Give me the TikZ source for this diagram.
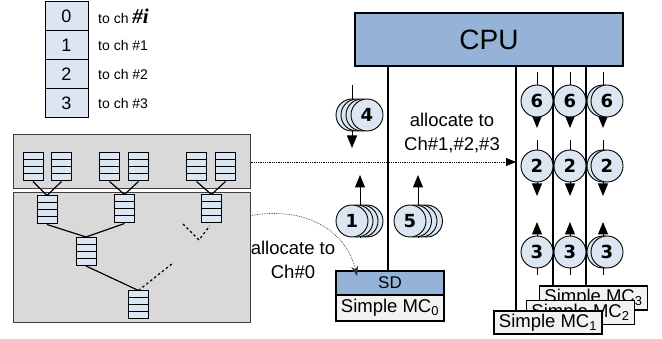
\documentclass[tikz,border=0pt]{standalone}
\usepackage{fontspec}
\setmainfont{Liberation Sans}
\newfontfamily\digitfont{DejaVu Sans}
\newfontfamily\timesfont{Liberation Serif}
\usetikzlibrary{arrows.meta,calc,positioning}
\definecolor{cpublue}{RGB}{149,179,215}
\definecolor{tokenblue}{RGB}{220,230,242}
\definecolor{panelgray}{RGB}{217,217,217}
\definecolor{mcgray}{RGB}{242,242,242}
\newcommand{\pxfont}[1]{\fontsize{#1}{#1}\selectfont}
\tikzset{
  panel/.style={draw=black!75,fill=panelgray,line width=1pt,inner sep=0pt},
  queue/.style={draw,fill=tokenblue,line width=1pt,minimum width=20pt,minimum height=28pt,inner sep=0pt,
    path picture={\foreach \k in {1,2,3}
      \draw[line width=1pt] ($(path picture bounding box.north west)!\k/4!(path picture bounding box.south west)$)
        -- ($(path picture bounding box.north east)!\k/4!(path picture bounding box.south east)$);}},
  branch/.style={line width=1.2pt},
  trail/.style={line width=1.2pt,dash pattern=on 2.5pt off 2.5pt},
  idxcell/.style={draw,fill=tokenblue,line width=1pt,minimum width=43pt,minimum height=29pt,inner sep=0pt,outer sep=0pt,font=\pxfont{18}},
  idxnote/.style={right=10pt of #1,inner sep=0pt,font=\pxfont{14}},
  unit/.style={draw,line width=1.2pt,inner sep=0pt,outer sep=0pt},
  mcbox/.style={unit,fill=mcgray,minimum width=108pt,minimum height=24pt,font=\pxfont{18.5}},
  bus/.style={line width=1.3pt},
  token/.style={circle,draw,fill=tokenblue,line width=0.9pt,minimum size=32pt,inner sep=0pt,font=\digitfont\bfseries\pxfont{18}},
  flow/.style={line width=1pt,-{Triangle[width=10pt,length=12.5pt]}},
  hop/.style={line width=0.8pt,densely dotted,-{Triangle[width=8pt,length=10pt]}},
  hopcurve/.style={line width=0.7pt,densely dotted,black!80,-{Stealth[width=7pt,length=10pt]}},
  note/.style={align=center,inner sep=0pt,font=\fontsize{18.5}{23.5}\selectfont}
}

\begin{document}
\begin{tikzpicture}[x=1pt,y=-1pt]
 \useasboundingbox (0,0) rectangle (662,339);
 % channel index table
 \node[idxcell] (c0) at (66.5,16.5) {0};
 \node[idxcell,below=0pt of c0] (c1) {1};
 \node[idxcell,below=0pt of c1] (c2) {2};
 \node[idxcell,below=0pt of c2] (c3) {3};
 \node[idxnote=c0] (n0) {to ch {\timesfont\bfseries\itshape\pxfont{21}\#i}};
 \node[idxnote=c1] (n1) {to ch \#1};
 \node[idxnote=c2] (n2) {to ch \#2};
 \node[idxnote=c3] (n3) {to ch \#3};

 % queue tree
 \node[panel,minimum width=237pt,minimum height=54pt] (top) at (131.5,162) {};
 \node[panel,minimum width=237pt,minimum height=130pt] (bottom) at (131.5,258) {};
 \node[queue] (q1) at (33,167) {};
 \node[queue] (q2) at (61.5,167) {};
 \node[queue] (q3) at (109.5,167) {};
 \node[queue] (q4) at (138.5,167) {};
 \node[queue] (q5) at (196.5,167) {};
 \node[queue] (q6) at (225.5,167) {};
 \node[queue] (m1) at (47,210) {};
 \node[queue] (m2) at (124.5,209) {};
 \node[queue] (m3) at (211.5,209) {};
 \node[queue] (r1) at (86,251.5) {};
 \node[queue] (s1) at (138.5,305) {};
 \draw[branch] (q1.south) -- (m1.north);
 \draw[branch] (q2.south) -- (m1.north);
 \draw[branch] (q3.south) -- (m2.north);
 \draw[branch] (q4.south) -- (m2.north);
 \draw[branch] (q5.south) -- (m3.north);
 \draw[branch] (q6.south) -- (m3.north);
 \draw[branch] (m1.south) -- (r1.north);
 \draw[branch] (m2.south) -- (r1.north);
 \draw[branch] (r1.south) -- (s1.north);
 \coordinate (s1tail) at (173,263);
 \draw[trail] (s1.north) -- (s1tail);
 \coordinate (m3left) at (183,224);
 \coordinate (m3dip) at (199,240);
 \draw[trail,shorten >=3pt] (m3left) -- (m3dip) -- (m3.south);

 % CPU and memory controllers
 \node[unit,fill=cpublue,minimum width=268pt,minimum height=53pt,font=\pxfont{28}] (cpu) at (489,39.5) {CPU};
 \node[unit,fill=cpublue,minimum width=108pt,minimum height=24pt,font=\pxfont{17}] (sd) at (390,283) {SD};
 \node[mcbox,below=0pt of sd,minimum height=26pt] (mc0) {Simple MC\textsubscript{0}};
 \node[mcbox] (mc3) at (593.5,298) {Simple MC\textsubscript{3}};
 \node[mcbox] (mc2) at (580.5,312.5) {Simple MC\textsubscript{2}};
 \node[mcbox,minimum height=23pt] (mc1) at (548,322.5) {Simple MC\textsubscript{1}};
 \coordinate (bus0) at (388,0);
 \coordinate (bus1) at (516,0);
 \coordinate (bus2) at (553,0);
 \coordinate (bus3) at (586,0);
 \draw[bus] (bus0 |- cpu.south) -- (bus0 |- sd.north);
 \draw[bus] (bus1 |- cpu.south) -- (bus1 |- mc1.north);
 \draw[bus] (bus2 |- cpu.south) -- (bus2 |- mc3.north);
 \draw[bus] (bus3 |- cpu.south) -- (bus3 |- mc3.north);

 % allocation arrows
 \draw[hop] (top.east) -- (bus1 |- top.east);
 \node[note] (alloc) at (452,133) {allocate to\\Ch\#1,\#2,\#3};
 \coordinate (from0) at ($(bottom.north east)+(0,23)$);
 \coordinate (to0) at ($(sd.north west)+(21,5)$);
 \draw[hopcurve] (from0) .. controls +(60,-10) and +(-10,-42) .. (to0);
 \node[note] (alloc0) at (293,260) {allocate to\\Ch\#0};

 % request tokens near SD
 \coordinate (t4top) at (352,85);
 \coordinate (t4tip) at (352,148);
 \draw[flow] (t4top) -- (t4tip);
 \foreach \k in {0,1,2} \node[token] (t4\k) at (352+5*\k,115) {};
 \node[token] (t4) at (367,115) {4};
 \coordinate (t1tail) at (360,238);
 \coordinate (t1tip) at (360,175);
 \draw[flow] (t1tail) -- (t1tip);
 \foreach \k in {3,2,1} \node[token] (t1\k) at (352+5*\k,221) {};
 \node[token] (t1) at (352,221) {1};
 \coordinate (t5tail) at (418,238);
 \coordinate (t5tip) at (418,175);
 \draw[flow] (t5tail) -- (t5tip);
 \foreach \k in {3,2,1} \node[token] (t5\k) at (410+5.5*\k,221) {};
 \node[token] (t5) at (410,221) {5};

 % request tokens on channels 1-3
 \foreach \x/\c in {537/a,570/b,603/c} {
   \coordinate (s6\c) at (\x,72);  \coordinate (e6\c) at (\x,128);
   \coordinate (s2\c) at (\x,140); \coordinate (e2\c) at (\x,196);
   \coordinate (s3\c) at (\x,275); \coordinate (e3\c) at (\x,222);
   \draw[flow] (s6\c) -- (e6\c);
   \draw[flow] (s2\c) -- (e2\c);
   \draw[flow] (s3\c) -- (e3\c);
 }
 \node[token] (t6back) at (603,101) {};
 \node[token] (t2back) at (603,166) {};
 \node[token] (t3back) at (603,252) {};
 \foreach \x/\c in {537/a,570/b,607/c} {
   \node[token] (t6\c) at (\x,101) {6};
   \node[token] (t2\c) at (\x,166) {2};
   \node[token] (t3\c) at (\x,252) {3};
 }
\end{tikzpicture}
\end{document}
